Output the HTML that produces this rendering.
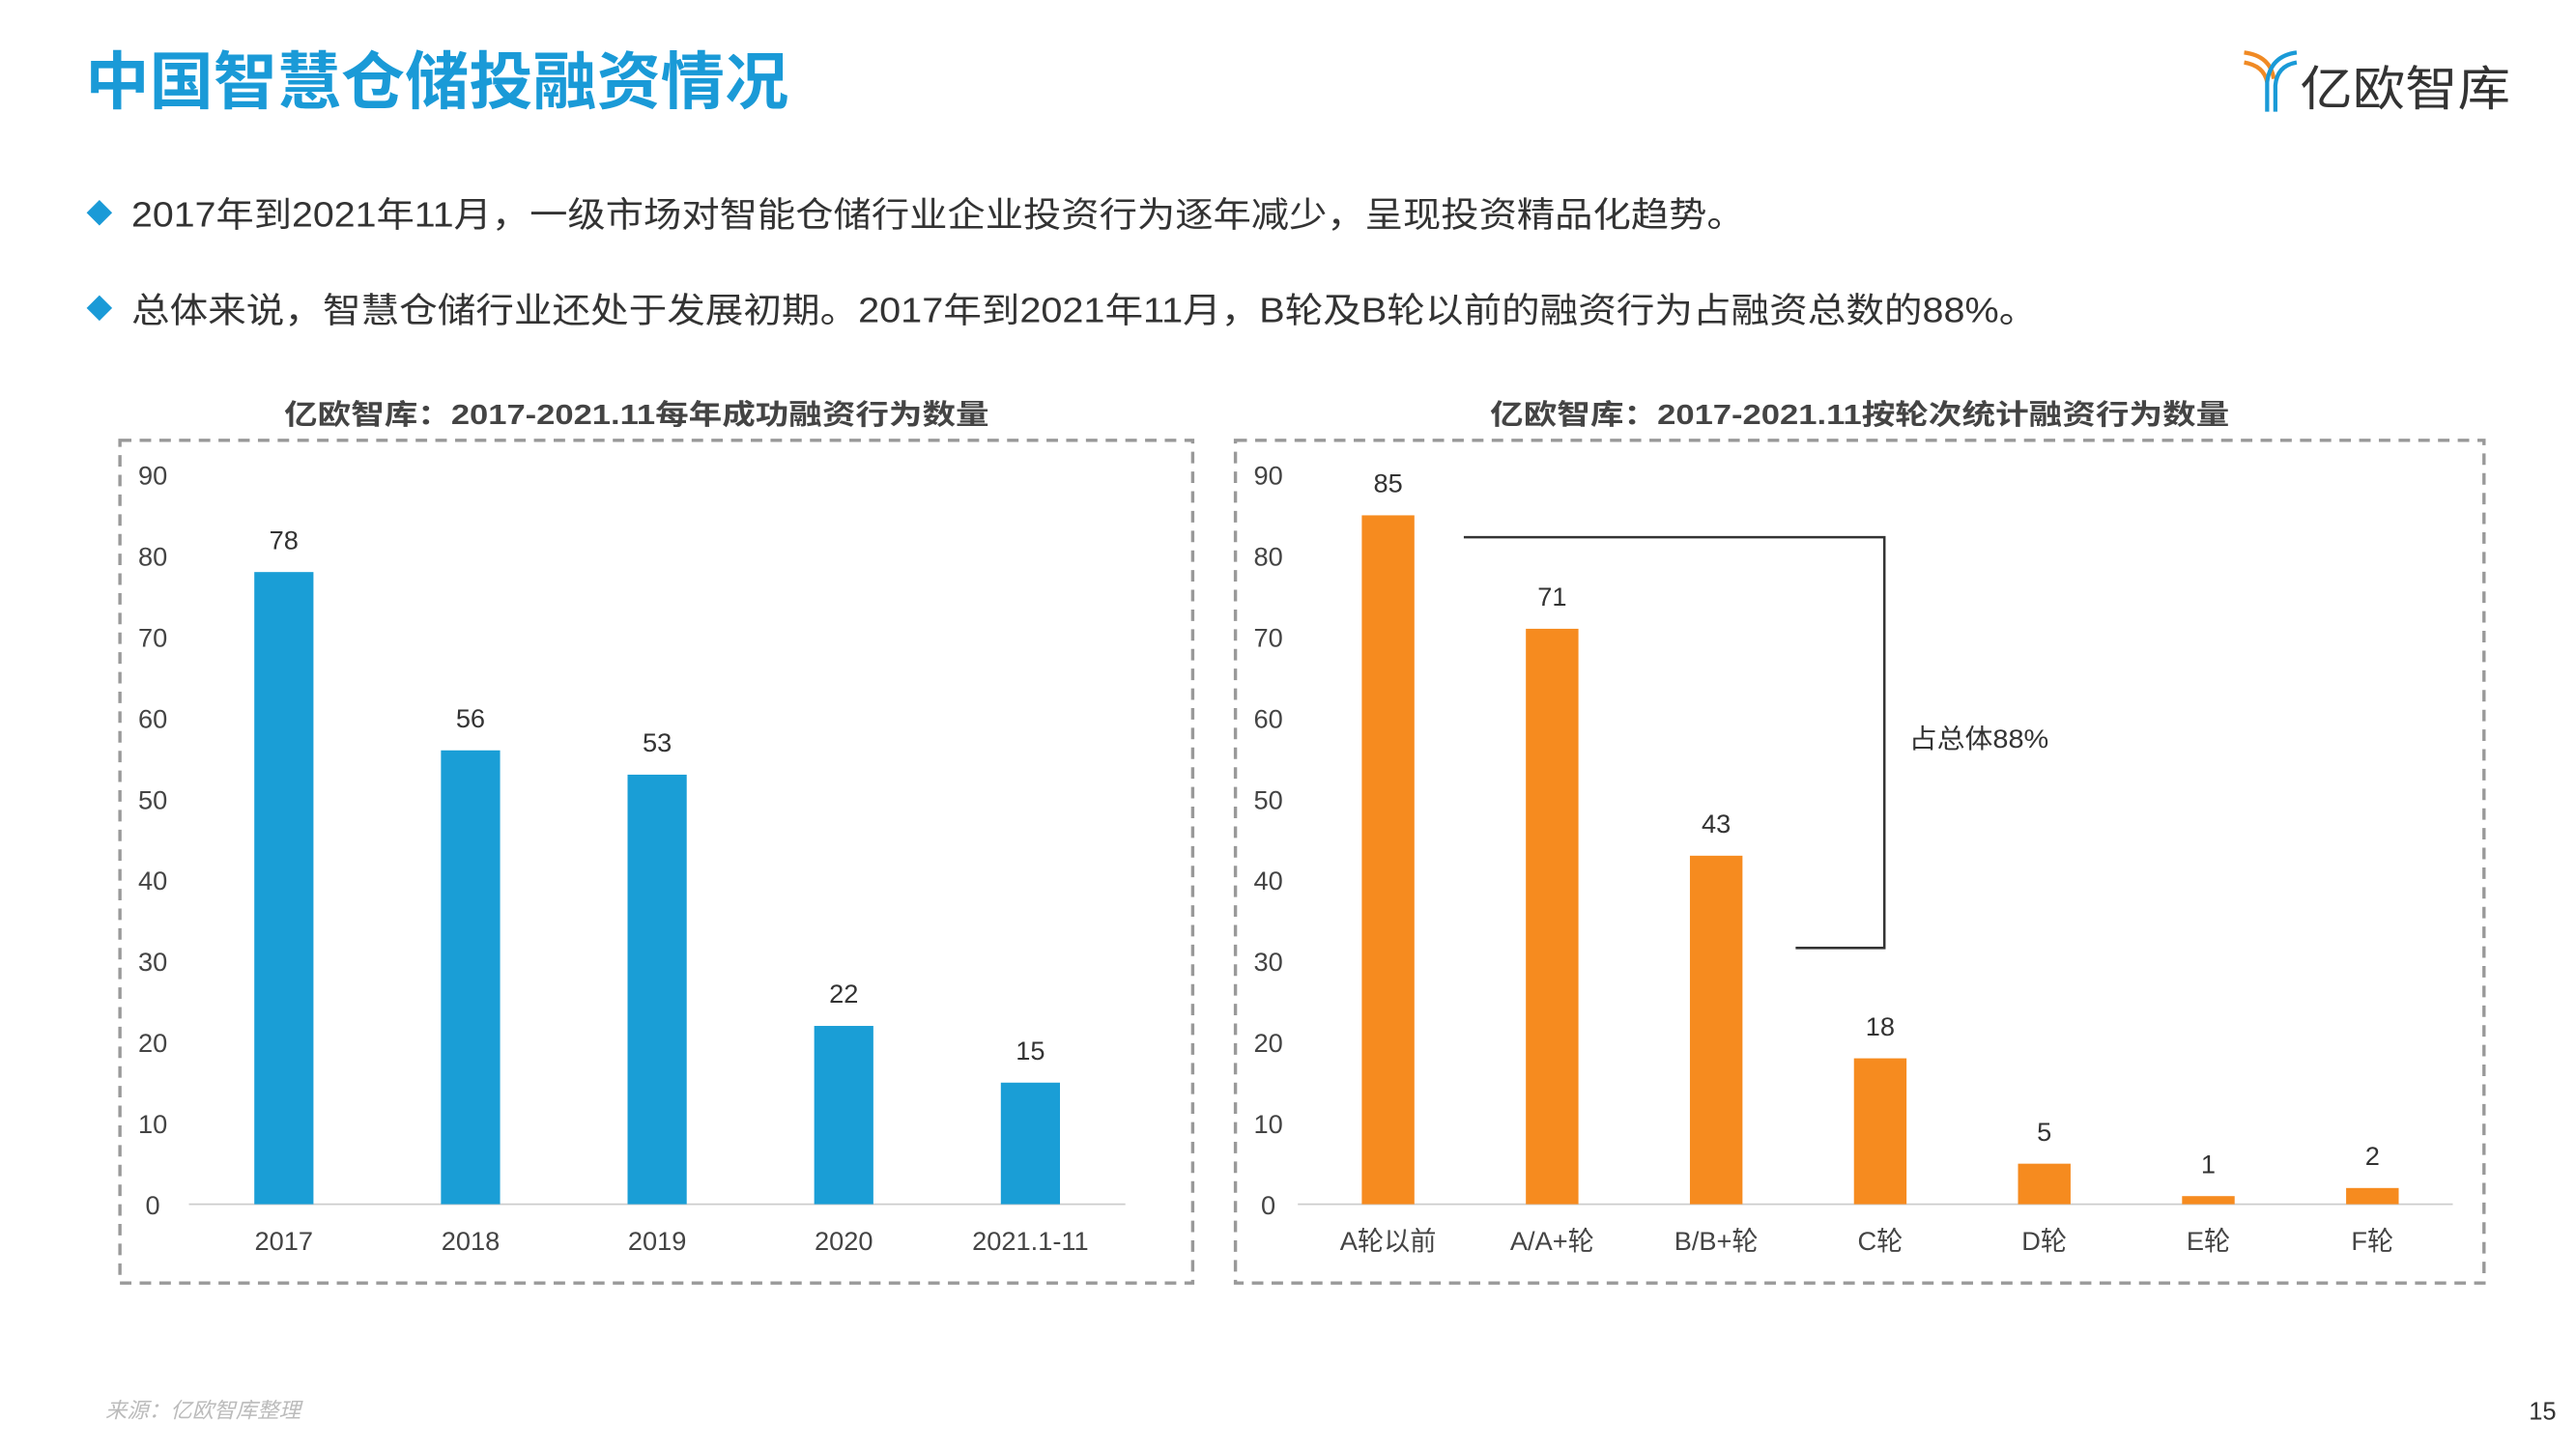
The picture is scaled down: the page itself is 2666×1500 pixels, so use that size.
<!DOCTYPE html>
<html><head><meta charset="utf-8">
<style>
html,body{margin:0;padding:0;background:#fff;}
svg{display:block;}
text{font-family:"Liberation Sans","Noto Sans CJK SC",sans-serif;}
</style></head>
<body>
<svg id="s" width="2666" height="1500" viewBox="0 0 1568 882" preserveAspectRatio="none" xmlns="http://www.w3.org/2000/svg">
<text x="52" y="63" font-size="38" font-weight="bold" fill="#1a9ad7" textLength="428" lengthAdjust="spacingAndGlyphs">中国智慧仓储投融资情况</text>
<g>
<path d="M1366 32 Q1382 34 1384 48" stroke="#f08a24" stroke-width="2.5" fill="none"/>
<path d="M1366 38 Q1378 40 1380 50" stroke="#f08a24" stroke-width="2.5" fill="none"/>
<path d="M1398 32 Q1382 34 1380 50 L1380 68" stroke="#1a9ad7" stroke-width="2.5" fill="none"/>
<path d="M1398 38 Q1386 40 1385 52 L1385 68" stroke="#1a9ad7" stroke-width="2.5" fill="none"/>
<text x="1400" y="64" font-size="29" fill="#333" textLength="128" lengthAdjust="spacingAndGlyphs">亿欧智库</text>
</g>
<g>
<rect x="55" y="124" width="11" height="11" fill="#1a9ad7" transform="rotate(45 60.5 129.5)"/>
<text x="80" y="138" font-size="21" fill="#333" textLength="982" lengthAdjust="spacingAndGlyphs">2017年到2021年11月，一级市场对智能仓储行业企业投资行为逐年减少，呈现投资精品化趋势。</text>
</g>
<g>
<rect x="55" y="182" width="11" height="11" fill="#1a9ad7" transform="rotate(45 60.5 187.5)"/>
<text x="80" y="196" font-size="21" fill="#333" textLength="1160" lengthAdjust="spacingAndGlyphs">总体来说，智慧仓储行业还处于发展初期。2017年到2021年11月，B轮及B轮以前的融资行为占融资总数的88%。</text>
</g>
<text x="173" y="258" font-size="17" font-weight="bold" fill="#444" textLength="429" lengthAdjust="spacingAndGlyphs">亿欧智库：2017-2021.11每年成功融资行为数量</text>
<text x="907" y="258" font-size="17" font-weight="bold" fill="#444" textLength="450" lengthAdjust="spacingAndGlyphs">亿欧智库：2017-2021.11按轮次统计融资行为数量</text>
<rect x="73" y="268" width="653" height="513" fill="none" stroke="#999" stroke-width="2" stroke-dasharray="7,5"/>
<rect x="752" y="268" width="760" height="513" fill="none" stroke="#999" stroke-width="2" stroke-dasharray="7,5"/>
<line x1="115" y1="733" x2="685" y2="733" stroke="#ccc" stroke-width="1"/>
<line x1="790" y1="733" x2="1493" y2="733" stroke="#ccc" stroke-width="1"/>
<path d="M891 327 H1147 V577 H1093" fill="none" stroke="#333" stroke-width="1.5"/>
<text x="1162" y="455" font-size="16" fill="#333" textLength="85" lengthAdjust="spacingAndGlyphs">占总体88%</text>
<text x="64" y="863" font-size="13" font-style="italic" fill="#bbb" textLength="119" lengthAdjust="spacingAndGlyphs">来源：亿欧智库整理</text>
<text x="1556" y="864" font-size="15" fill="#333" text-anchor="end">15</text>
<g id="g"></g>
</svg>
<script>
const yearCats = ["2017","2018","2019","2020","2021.1-11"];
const yearVals = [78,56,53,22,15];
const roundCats = ["A轮以前","A/A+轮","B/B+轮","C轮","D轮","E轮","F轮"];
const roundVals = [85,71,43,18,5,1,2];
const yTicks = [0,10,20,30,40,50,60,70,80,90];

const NS="http://www.w3.org/2000/svg";
const g=document.getElementById('g');
function y(v){return 733 - v*(733-289)/90;}
function mk(tag,attrs,txt){const e=document.createElementNS(NS,tag);for(const k in attrs)e.setAttribute(k,attrs[k]);if(txt!==undefined)e.textContent=txt;g.appendChild(e);return e;}
function chart(cats,vals,x0,x1,color,bw,tickX,prefix){
  const step=(x1-x0)/cats.length;
  yTicks.forEach(t=>{
    const e=mk('text',{x:tickX,y:y(t)+6,'font-size':16,fill:'#444','text-anchor':'middle'},t);
    
    
  });
  cats.forEach((c,i)=>{
    const cx=x0+step*(i+0.5);
    const b=mk('rect',{x:cx-bw/2,y:y(vals[i]),width:bw,height:733-y(vals[i]),fill:color});
    
    
    const l=mk('text',{x:cx,y:y(vals[i])-14,'font-size':16,fill:'#333','text-anchor':'middle'},vals[i]);
    
    
    const xl=mk('text',{x:cx,y:761,'font-size':16,fill:'#444','text-anchor':'middle'},c);
    
    
  });
}
chart(yearCats,yearVals,116,684,'#1a9ed6',36,93,'year');
chart(roundCats,roundVals,795,1494,'#f68b1f',32,772,'round');
</script>
</body></html>
